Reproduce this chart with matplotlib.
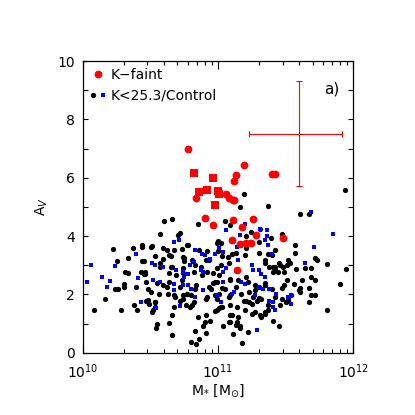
import matplotlib
matplotlib.use("Agg")
import matplotlib.pyplot as plt
from matplotlib.legend_handler import HandlerTuple
from matplotlib.ticker import MultipleLocator, LogLocator

# log10(M*/Msun) and A_V

# K<25.3 sample (black dots)
bk_logm = [10.60, 10.66, 10.85, 11.19, 11.16, 11.37, 11.61, 11.67, 11.94, 11.05, 11.09, 11.31, 11.47, 11.57, 11.00, 11.21, 11.24, 11.39,
           10.57, 10.72, 10.70, 10.22, 10.37, 10.25, 10.33, 10.31, 10.33, 10.30, 10.30, 10.39, 10.24, 10.26,
           11.72, 11.73, 11.81, 11.64, 11.69, 11.62, 11.69, 11.61, 11.67, 11.90, 11.95, 11.72, 11.60, 11.57, 11.58,
           10.16, 10.08, 10.28, 10.38, 10.40, 10.51, 10.52, 10.66, 10.64, 10.55, 10.54, 10.66, 10.85, 10.90, 10.94,
           10.91, 10.83, 10.91, 10.86, 10.80, 10.84, 10.98, 11.02,
           10.98, 10.99, 11.09, 11.08, 11.04, 11.14, 11.16, 11.11, 11.22, 11.18, 11.20, 11.25, 11.27, 11.31, 11.35,
           11.37, 11.41, 11.45, 11.61, 11.67, 11.69, 11.72, 11.81,
           10.44, 10.51, 10.59, 10.64, 10.77, 10.74, 10.45, 10.43, 10.46, 10.57, 10.66, 10.69, 10.47, 10.59, 10.64,
           10.73, 10.56, 10.50, 10.47, 10.53, 10.63, 10.68, 10.74, 10.77, 10.83, 10.82, 10.92, 10.95, 10.98, 10.88,
           10.92, 10.99, 10.87, 10.83, 10.93, 10.99, 10.53, 10.67, 10.79,
           11.02, 11.07, 11.10, 11.20, 11.30, 11.37, 11.42, 11.35, 11.38, 11.42, 11.46, 11.53, 11.44, 11.49, 11.41,
           11.02, 11.01, 11.09, 11.15, 11.22, 11.27, 11.35, 11.40, 11.49, 11.56, 11.05, 11.01, 11.17, 11.23, 11.19,
           11.25, 11.32, 11.42, 11.47, 11.52, 11.09, 11.14, 11.37,
           10.44, 10.50, 10.62, 10.67, 10.73, 10.86, 10.92, 10.44, 10.53, 10.59, 10.65, 10.75, 10.75, 10.81, 10.91,
           10.46, 10.45, 10.57, 10.65, 10.64, 10.74, 10.74, 10.82, 10.96, 10.48, 10.55, 10.62, 10.72, 10.84, 10.93,
           10.96, 10.78,
           11.00, 11.03, 11.13, 11.21, 11.08, 11.30, 11.35, 11.40, 11.45, 11.48, 11.51, 11.52, 11.42, 11.41, 10.99,
           11.09, 11.21, 11.35, 11.47, 11.51, 11.30, 11.27, 11.03, 11.13,
           10.48, 10.49, 10.53, 10.72, 10.74, 10.77, 10.80, 10.76, 10.81, 10.91, 10.99, 10.67,
           11.03, 11.21, 11.23, 11.26, 11.29, 11.30, 11.46, 11.50, 11.52, 11.54, 11.08, 11.09,
           10.89, 11.01, 11.10, 11.09, 11.13, 11.15, 11.16, 11.32, 11.35]
bk_av = [4.52, 4.60, 4.41, 5.43, 5.00, 5.02, 4.77, 4.75, 5.57, 4.50, 4.39, 4.25, 4.08, 3.71, 3.83, 3.99, 4.14, 3.95,
         4.08, 4.10, 4.03, 3.57, 3.59, 3.15, 3.26, 2.76, 2.75, 2.36, 2.26, 2.26, 2.20, 2.20,
         3.24, 3.18, 3.05, 2.90, 2.90, 2.49, 2.61, 2.21, 2.21, 2.36, 2.87, 2.49, 2.14, 3.41, 2.86,
         1.85, 1.48, 1.47, 1.62, 1.48, 1.39, 1.45, 1.31, 1.02, 0.97, 0.84, 0.61, 1.22, 1.05, 1.08,
         1.28, 0.74, 0.67, 0.47, 0.36, 0.30, 1.43, 1.56,
         1.97, 1.45, 1.28, 1.05, 0.91, 1.05, 0.93, 0.64, 0.70, 0.33, 1.45, 1.33, 1.39, 1.28, 1.39,
         1.45, 1.10, 0.91, 2.08, 1.74, 1.97, 1.97, 1.48,
         3.71, 3.67, 3.60, 3.35, 3.69, 3.29, 3.14, 2.77, 2.71, 3.09, 2.94, 2.66, 2.42, 2.31, 2.42,
         2.48, 2.02, 2.08, 1.79, 1.73, 2.02, 1.91, 1.85, 2.02, 2.20, 1.73, 1.91, 2.20, 2.42, 2.66,
         2.77, 2.89, 2.94, 3.00, 3.17, 3.75, 1.56, 1.56, 1.56,
         3.75, 3.29, 3.40, 3.35, 3.80, 3.40, 3.52, 3.06, 2.94, 2.94, 3.00, 3.06, 2.77, 2.77, 2.77,
         3.00, 2.66, 2.54, 2.48, 2.42, 2.31, 2.31, 2.20, 2.31, 2.37, 2.20, 2.02, 2.02, 2.08, 1.79,
         1.68, 1.85, 1.91, 1.85, 1.79, 1.62, 1.56, 1.62,
         3.64, 3.64, 3.53, 3.53, 3.57, 3.53, 3.48, 3.15, 3.30, 3.21, 3.32, 3.26, 3.13, 3.18, 3.18,
         2.78, 2.70, 2.93, 2.95, 2.72, 2.90, 2.72, 2.77, 2.72, 2.20, 2.38, 2.26, 2.26, 2.32, 2.26,
         2.38, 3.70,
         3.50, 3.32, 3.41, 3.59, 3.09, 3.41, 3.18, 3.36, 3.07, 2.95, 3.01, 3.18, 2.84, 2.95, 2.44,
         2.49, 2.61, 2.38, 2.21, 2.49, 2.26, 2.15, 2.21, 2.26,
         1.82, 1.68, 1.74, 1.76, 1.97, 2.02, 1.97, 1.64, 1.62, 1.85, 1.85, 1.97,
         1.56, 1.79, 1.74, 1.91, 1.79, 1.87, 1.62, 1.74, 1.85, 1.97, 1.91, 1.97,
         0.91, 1.55, 1.29, 1.06, 0.94, 1.21, 0.86, 1.23, 1.32]

# Control sample (blue squares)
bl_logm = [11.69, 11.85, 11.71, 11.20, 11.06, 11.16, 11.36, 11.36, 11.31, 11.37, 11.35,
           10.39, 10.06, 10.24, 10.14, 10.20, 10.18, 10.03, 10.41, 11.64, 10.54, 10.72, 10.67,
           11.41, 11.42, 11.54, 11.29,
           10.67, 10.71, 10.83, 10.88, 10.90, 10.51, 10.53, 10.59, 10.69, 10.79, 10.82, 10.74, 10.78, 10.87,
           10.89, 10.52, 10.57, 10.67, 10.74, 10.78, 10.80, 10.75, 10.89, 10.83, 10.43, 10.99, 10.94, 10.98,
           11.01, 11.04, 11.14, 11.37, 11.40, 11.06, 11.04, 11.15, 11.25, 11.26, 11.30, 11.32, 11.35, 11.17,
           11.20, 11.30, 11.33, 11.04, 11.10, 11.12, 11.38, 11.43, 11.38, 11.41, 11.52, 11.54, 11.02, 11.27]
bl_av = [4.82, 4.08, 3.62, 4.40, 4.22, 4.03, 4.20, 4.00, 4.23, 3.68, 3.87,
         3.37, 3.01, 2.98, 2.61, 2.46, 2.26, 2.41, 2.55, 3.08, 1.53, 1.59, 2.14,
         1.56, 1.48, 1.68, 0.79,
         3.80, 3.86, 3.52, 3.40, 3.34, 3.06, 3.02, 2.94, 2.83, 3.00, 3.11, 2.77, 2.71, 2.83,
         2.77, 2.48, 2.42, 2.36, 2.31, 2.31, 2.20, 2.60, 2.14, 1.91, 1.74, 1.97, 3.23, 3.40,
         3.58, 3.46, 3.63, 3.69, 3.40, 2.89, 2.77, 3.17, 3.00, 2.83, 2.83, 2.71, 2.60, 2.42,
         2.37, 2.25, 2.20, 2.42, 2.02, 2.08, 2.20, 2.02, 1.79, 1.73, 1.91, 1.97, 1.74, 1.97]

# K-faint sample (red circles and squares)
rc_logm = [10.78, 10.84, 10.90, 10.96, 11.19, 11.13, 11.12, 11.40, 11.42, 11.06, 11.08, 11.11, 11.12,
           11.11, 11.26, 11.18, 11.28, 11.48, 11.10, 11.16, 11.21, 11.24, 11.14]
rc_av = [7.00, 5.30, 4.63, 4.38, 6.43, 6.10, 5.90, 6.12, 6.12, 5.44, 5.32, 5.25, 5.23,
         4.54, 4.60, 4.31, 4.02, 3.94, 3.85, 3.74, 3.76, 3.76, 2.84]
rs_logm = [10.82, 10.96, 10.86, 10.92, 11.00, 11.01, 10.98]
rs_av = [6.15, 5.98, 5.50, 5.58, 5.55, 5.44, 5.06]

# typical error bar
err_logm, err_av = 11.60, 7.50
err_logm_lo, err_logm_hi = 11.23, 11.92
err_av_size = 1.8

plt.rcParams['font.family'] = ['DejaVu Sans']
fig = plt.figure(figsize=(4.15, 4.15), dpi=100)
ax = fig.add_axes([0.2, 0.15, 0.651, 0.703])

bk, = ax.plot([10**m for m in bk_logm], bk_av, 'o', color='black', ms=3.8, mew=0, ls='none')
bl, = ax.plot([10**m for m in bl_logm], bl_av, 's', color='blue', ms=3.4, mew=0, ls='none')
rc, = ax.plot([10**m for m in rc_logm], rc_av, 'o', color='red', ms=5.6, mew=0, ls='none')
ax.plot([10**m for m in rs_logm], rs_av, 's', color='red', ms=5.2, mew=0, ls='none')

xc = 10**err_logm
ax.errorbar([xc], [err_av], xerr=[[xc - 10**err_logm_lo], [10**err_logm_hi - xc]],
            yerr=err_av_size, color='red', lw=0.8, capsize=2.5, capthick=0.8, fmt='none')

ax.set_xscale('log')
ax.set_xlim(1e10, 1e12)
ax.set_ylim(0, 10)
ax.yaxis.set_major_locator(MultipleLocator(2))
ax.yaxis.set_minor_locator(MultipleLocator(1))
ax.xaxis.set_minor_locator(LogLocator(subs=range(2, 10)))
ax.tick_params(which='both', direction='in', top=True, right=True, labelsize=10, width=0.8)
ax.tick_params(axis='x', which='major', length=6, pad=7)
ax.tick_params(axis='x', which='minor', length=3)
ax.tick_params(axis='y', which='both', length=3.5, pad=6)
for s in ax.spines.values():
    s.set_linewidth(0.9)

ax.set_xlabel(r'M$_{*}$ [M$_{\odot}$]', fontsize=10, labelpad=1)
ax.set_ylabel(r'A$_{V}$', fontsize=10, labelpad=5)
ax.text(0.92, 0.905, 'a)', transform=ax.transAxes, fontsize=11, ha='center', va='center')

ax.legend([rc, (bk, bl)], ['K\u2212faint', 'K<25.3/Control'],
          handler_map={tuple: HandlerTuple(ndivide=None, pad=0.2)},
          loc='upper left', frameon=False, fontsize=10, handlelength=1.2,
          handletextpad=0.3, borderaxespad=0.2, labelspacing=0.5, borderpad=0.3)

fig.savefig('out.png', dpi=100)
